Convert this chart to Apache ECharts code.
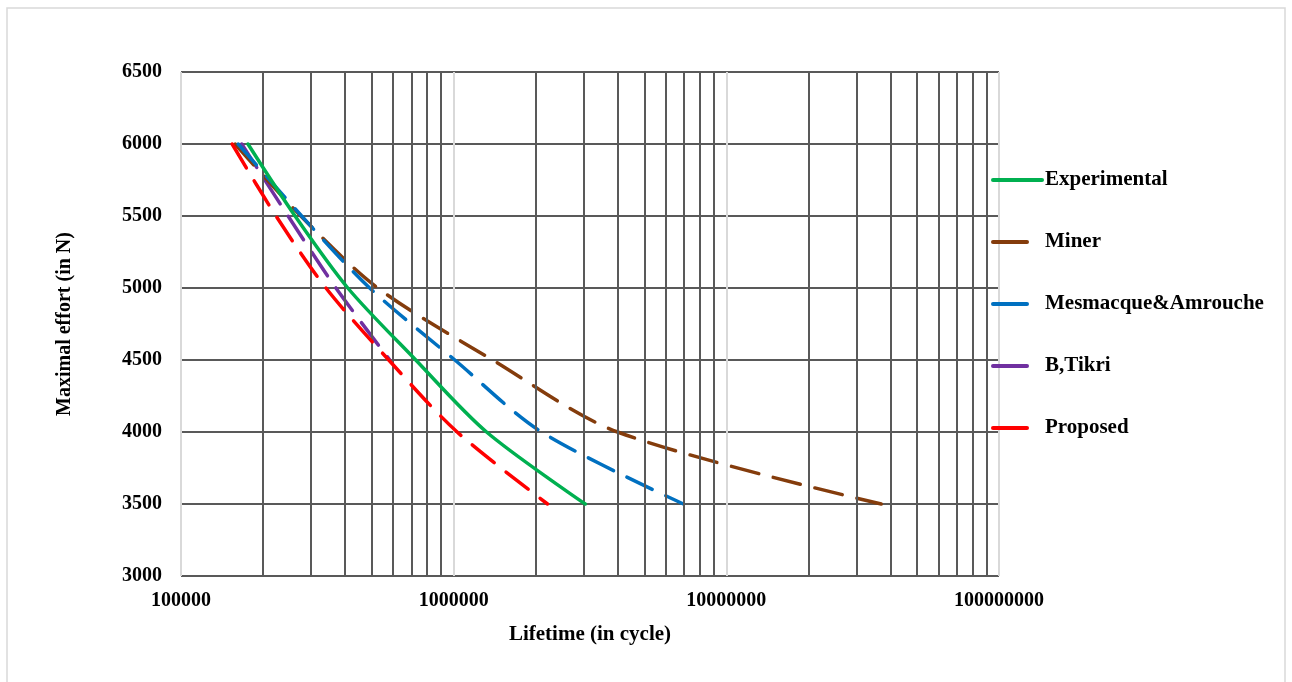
<!DOCTYPE html>
<html>
<head>
<meta charset="utf-8">
<script src="https://cdn.jsdelivr.net/npm/echarts@6/dist/echarts.min.js"></script>
<style>
  html, body { margin: 0; padding: 0; background: #fff; }
  #chart { width: 1292px; height: 682px; }
</style>
</head>
<body>
<div id="chart"></div>
<script>
// load levels (N) shared by every curve
const loads = [6000, 5500, 5000, 4500, 4000, 3500]

// lifetimes (cycles)
const experimental = [176000, 262000, 409000, 726000, 1320000, 3040000]
const miner = [158000, 275000, 527000, 1390000, 3990000, 37000000]
const mesmacque = [162000, 277000, 492000, 1010000, 2100000, 6960000]
const tikri = [167000, 247000, 370000, 583000]
const proposed = [154000, 223000, 340000, 578000, 1030000, 2210000]

const yTicks = { min: 3000, max: 6500, interval: 500 }
const minorX = [2e5, 3e5, 4e5, 5e5, 6e5, 7e5, 8e5, 9e5,
  2e6, 3e6, 4e6, 5e6, 6e6, 7e6, 8e6, 9e6,
  2e7, 3e7, 4e7, 5e7, 6e7, 7e7, 8e7, 9e7]

const font = 'Liberation Serif, Times New Roman, serif'
const dash = [28, 15]
const legendDash = { type: [34, 20], width: 4, cap: 'round' }

const pairs = (xs) => xs.map((x, i) => [x, loads[i]])

const curve = (name, xs, color, dashed, z) => ({
  name: name,
  type: 'line',
  data: pairs(xs),
  smooth: 0.3,
  symbol: 'none',
  z: z,
  lineStyle: { color: color, width: 3.5, type: dashed ? dash : 'solid', cap: 'round' },
  itemStyle: { color: color }
})

const chart = echarts.init(document.getElementById('chart'))

chart.setOption({
  animation: false,
  graphic: [{
    type: 'rect',
    shape: { x: 7, y: 8, width: 1278, height: 690 },
    style: { fill: 'none', stroke: '#d9d9d9', lineWidth: 1.5 },
    silent: true
  }],
  grid: { left: 181, right: 293, top: 72, bottom: 106 },
  legend: {
    orient: 'vertical',
    left: 991,
    top: 169,
    padding: 0,
    itemWidth: 49,
    itemHeight: 14,
    itemGap: 40,
    itemStyle: { opacity: 0 },
    textStyle: { fontFamily: font, fontWeight: 'bold', fontSize: 21, color: '#000', lineHeight: 22, padding: [0, 0, 0, -2] },
    data: [
      { name: 'Experimental', lineStyle: { width: 4, cap: 'round' } },
      { name: 'Miner', lineStyle: legendDash },
      { name: 'Mesmacque&Amrouche', lineStyle: legendDash },
      { name: 'B,Tikri', lineStyle: legendDash },
      { name: 'Proposed', lineStyle: legendDash }
    ]
  },
  xAxis: {
    type: 'log',
    logBase: 10,
    min: 1e5,
    max: 1e8,
    name: 'Lifetime (in cycle)',
    nameLocation: 'middle',
    nameGap: 48,
    nameTextStyle: { fontFamily: font, fontWeight: 'bold', fontSize: 21, color: '#000' },
    axisLine: { show: false },
    axisTick: { show: false },
    axisLabel: {
      margin: 15,
      fontFamily: font, fontWeight: 'bold', fontSize: 20, color: '#000',
      formatter: (v) => String(Math.round(v))
    },
    splitLine: { show: true, lineStyle: { color: '#d9d9d9', width: 2 } }
  },
  yAxis: {
    type: 'value',
    min: yTicks.min,
    max: yTicks.max,
    interval: yTicks.interval,
    name: 'Maximal effort (in N)',
    nameLocation: 'middle',
    nameGap: 106,
    nameTextStyle: { fontFamily: font, fontWeight: 'bold', fontSize: 20, color: '#000' },
    axisLine: { show: false },
    axisTick: { show: false },
    axisLabel: {
      margin: 19,
      fontFamily: font, fontWeight: 'bold', fontSize: 20, color: '#000',
      formatter: (v) => String(v)
    },
    splitLine: { show: true, lineStyle: { color: '#595959', width: 2 } }
  },
  series: [
    {
      name: 'minor grid',
      type: 'line',
      data: [],
      z: 1,
      silent: true,
      markLine: {
        silent: true,
        symbol: 'none',
        label: { show: false },
        lineStyle: { color: '#595959', width: 2, type: 'solid' },
        data: minorX.map((x) => ({ xAxis: x }))
      }
    },
    curve('Experimental', experimental, '#00b050', false, 6),
    curve('Miner', miner, '#843c0c', true, 3),
    curve('Mesmacque&Amrouche', mesmacque, '#0070c0', true, 4),
    curve('B,Tikri', tikri, '#7030a0', true, 2),
    curve('Proposed', proposed, '#ff0000', true, 5)
  ]
})

window.addEventListener('resize', () => {
  chart.resize()
})
</script>
</body>
</html>
